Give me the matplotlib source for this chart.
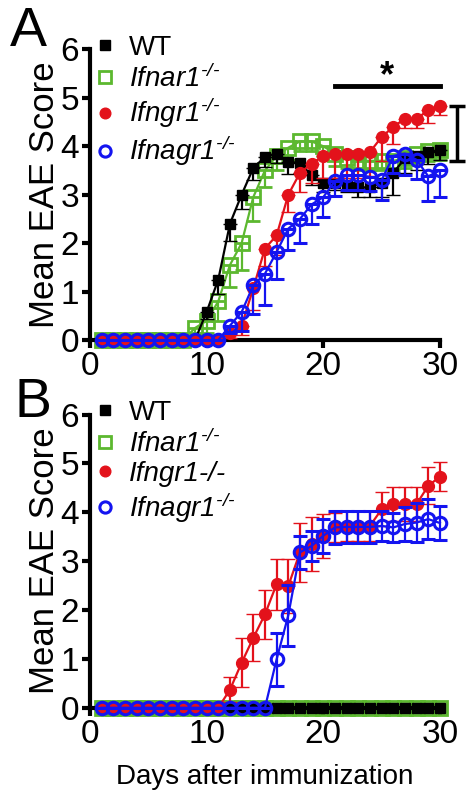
import matplotlib
matplotlib.use("Agg")
import matplotlib.pyplot as plt
from matplotlib.lines import Line2D
import numpy as np

plt.rcParams['font.family'] = ['Liberation Sans Narrow', 'Liberation Sans', 'DejaVu Sans']
plt.rcParams['mathtext.fontset'] = 'custom'
plt.rcParams['mathtext.rm'] = 'Liberation Sans:italic'
plt.rcParams['mathtext.it'] = 'Liberation Sans:italic'

# --- Data ---
days = np.arange(1, 31)

# Panel A: mean EAE score, lower SEM
a_wt = [0, 0, 0, 0, 0, 0, 0, 0, 0, 0.58, 1.25, 2.4, 3.0, 3.55, 3.78, 3.85, 3.68, 3.65, 3.4, 3.25,
        3.25, 3.2, 3.15, 3.15, 3.25, 3.45, 3.75, 3.8, 3.88, 3.92]
a_wt_err = [0, 0, 0, 0, 0, 0, 0, 0, 0, 0.15, 0.3, 0.35, 0.3, 0.25, 0.2, 0.2, 0.25, 0.2, 0.2, 0.2,
            0.15, 0.15, 0.2, 0.2, 0.3, 0.45, 0.3, 0.3, 0.25, 0.2]
a_ifnar = [0, 0, 0, 0, 0, 0, 0, 0, 0.25, 0.4, 0.8, 1.55, 2.0, 2.95, 3.5, 3.8, 3.97, 4.1, 4.1, 4.0,
           3.85, 3.75, 3.7, 3.7, 3.7, 3.7, 3.75, 3.85, 3.9, 3.92]
a_ifnar_err = [0, 0, 0, 0, 0, 0, 0, 0, 0.1, 0.25, 0.4, 0.45, 0.55, 0.5, 0.35, 0.3, 0.25, 0.2, 0.2, 0.2,
               0.25, 0.2, 0.2, 0.2, 0.2, 0.2, 0.2, 0.2, 0.2, 0.2]
a_ifngr = [0, 0, 0, 0, 0, 0, 0, 0, 0, 0, 0, 0.15, 0.3, 1.07, 1.89, 2.16, 3.0, 3.45, 3.64, 3.8,
           3.85, 3.85, 3.85, 3.88, 4.19, 4.4, 4.57, 4.57, 4.74, 4.82]
a_ifngr_err = [0, 0, 0, 0, 0, 0, 0, 0, 0, 0, 0, 0.1, 0.2, 0.45, 0.35, 0.4, 0.35, 0.4, 0.4, 0.45,
               0.5, 0.5, 0.5, 0.5, 0.5, 0.35, 0.2, 0.2, 0.27, 0.18]
a_ifnagr = [0, 0, 0, 0, 0, 0, 0, 0, 0, 0, 0, 0.3, 0.58, 1.13, 1.37, 1.82, 2.3, 2.5, 2.8, 2.95,
            3.28, 3.4, 3.4, 3.37, 3.3, 3.8, 3.85, 3.72, 3.38, 3.5]
a_ifnagr_err = [0, 0, 0, 0, 0, 0, 0, 0, 0, 0, 0, 0.15, 0.4, 0.6, 0.65, 0.55, 0.45, 0.5, 0.4, 0.4,
                0.3, 0.3, 0.3, 0.3, 0.4, 0.35, 0.45, 0.4, 0.5, 0.55]

# Panel B: mean EAE score, SEM
b_wt = [0, 0, 0, 0, 0, 0, 0, 0, 0, 0, 0, 0, 0, 0, 0, 0, 0, 0, 0, 0,
        0, 0, 0, 0, 0, 0, 0, 0, 0, 0]
b_ifnar = [0, 0, 0, 0, 0, 0, 0, 0, 0, 0, 0, 0, 0, 0, 0, 0, 0, 0, 0, 0,
           0, 0, 0, 0, 0, 0, 0, 0, 0, 0]
b_ifngr = [0, 0, 0, 0, 0, 0, 0, 0, 0, 0, 0, 0.37, 0.92, 1.43, 1.91, 2.53, 2.49, 3.18, 3.35, 3.52,
           3.69, 3.72, 3.72, 3.72, 4.06, 4.17, 4.17, 4.17, 4.54, 4.73]
b_ifngr_err = [0, 0, 0, 0, 0, 0, 0, 0, 0, 0, 0, 0.25, 0.5, 0.48, 0.5, 0.52, 0.55, 0.6, 0.55, 0.45,
               0.3, 0.3, 0.3, 0.3, 0.35, 0.35, 0.35, 0.35, 0.38, 0.3]
b_ifnagr = [0, 0, 0, 0, 0, 0, 0, 0, 0, 0, 0, 0, 0, 0, 0, 0.99, 1.89, 3.18, 3.31, 3.52,
            3.69, 3.7, 3.7, 3.7, 3.72, 3.69, 3.76, 3.79, 3.86, 3.78]
b_ifnagr_err = [0, 0, 0, 0, 0, 0, 0, 0, 0, 0, 0, 0, 0, 0, 0, 0.55, 0.63, 0.34, 0.3, 0.35,
                0.33, 0.33, 0.33, 0.33, 0.3, 0.3, 0.35, 0.4, 0.41, 0.35]

labels_a = ['WT', r'Ifnar1$^{\text{-/-}}$', r'Ifngr1$^{\text{-/-}}$', r'Ifnagr1$^{\text{-/-}}$']
labels_b = ['WT', r'Ifnar1$^{\text{-/-}}$', 'Ifngr1-/-', r'Ifnagr1$^{\text{-/-}}$']

BLACK = '#000000'
GREEN = '#5cb82f'
RED = '#e3121b'
BLUE = '#1414f0'

styles = [
    dict(color=BLACK, marker='s', ms=7.5, mfc=BLACK, mec=BLACK, mew=1, z=3),
    dict(color=GREEN, marker='s', ms=9.5, mfc='none', mec=GREEN, mew=2, z=2),
    dict(color=RED, marker='o', ms=8.5, mfc=RED, mec=RED, mew=1, z=4),
    dict(color=BLUE, marker='o', ms=9, mfc='none', mec=BLUE, mew=2.2, z=5),
]

fig = plt.figure(figsize=(4.71, 8.08), dpi=100)
ax_a = fig.add_axes([0.191, 0.579, 0.743, 0.360])
ax_b = fig.add_axes([0.191, 0.124, 0.743, 0.363])


def draw_panel(ax, series, errs, lower_only, labels):
    for y, e, st in zip(series, errs, styles):
        y = np.asarray(y)
        if e is None:
            yerr = None
        else:
            e = np.asarray(e)
            yerr = [e, np.zeros_like(e)] if lower_only else e
        ax.errorbar(days, y, yerr=yerr, color=st['color'], lw=1.6, marker=st['marker'],
                    ms=st['ms'], mfc=st['mfc'], mec=st['mec'], mew=st['mew'],
                    elinewidth=1.6, capsize=5, capthick=1.6, zorder=st['z'], clip_on=False)
    ax.set_xlim(0, 30)
    ax.set_ylim(0, 6)
    ax.set_xticks([0, 10, 20, 30])
    ax.set_yticks(range(7))
    for s in ['top', 'right']:
        ax.spines[s].set_visible(False)
    for s in ['left', 'bottom']:
        ax.spines[s].set_linewidth(3)
    ax.tick_params(width=3, length=6, labelsize=24, pad=2)
    ax.set_ylabel('Mean EAE Score', fontsize=25, family='Liberation Sans')
    ax.yaxis.set_label_coords(-0.082, 0.5)

    handles = [Line2D([], [], ls='none', marker=st['marker'], ms=st['ms'] * 0.9, mfc=st['mfc'],
                      mec=st['mec'], mew=st['mew']) for st in styles]
    leg = ax.legend(handles, labels, loc='upper left', bbox_to_anchor=(0.02, 1.05),
                    frameon=False, handlelength=0.6, handletextpad=0.55, labelspacing=0.12,
                    borderaxespad=0, borderpad=0,
                    prop=dict(family='Liberation Sans', style='italic', size=20))
    leg.get_texts()[0].set_style('normal')


draw_panel(ax_a, [a_wt, a_ifnar, a_ifngr, a_ifnagr],
           [a_wt_err, a_ifnar_err, a_ifngr_err, a_ifnagr_err], True, labels_a)
draw_panel(ax_b, [b_wt, b_ifnar, b_ifngr, b_ifnagr],
           [None, None, b_ifngr_err, b_ifnagr_err], False, labels_b)

# significance marks in panel A
ax_a.plot([21, 30], [5.24, 5.24], color='black', lw=3.5, clip_on=False)
ax_a.text(25.5, 5.08, '*', ha='center', va='bottom', fontsize=26, fontweight='bold')
ax_a.errorbar([31.5], [4.26], yerr=[[0.56], [0.56]], color='black', elinewidth=2.5,
              capsize=6, capthick=2.5, clip_on=False, fmt='none')

ax_b.set_xlabel('Days after immunization', fontsize=20, labelpad=10)

fig.text(0.02, 0.992, 'A', fontsize=40, family='Liberation Sans', va='top', ha='left')
fig.text(0.03, 0.533, 'B', fontsize=40, family='Liberation Sans', va='top', ha='left')

fig.savefig('out.png', dpi=100)
